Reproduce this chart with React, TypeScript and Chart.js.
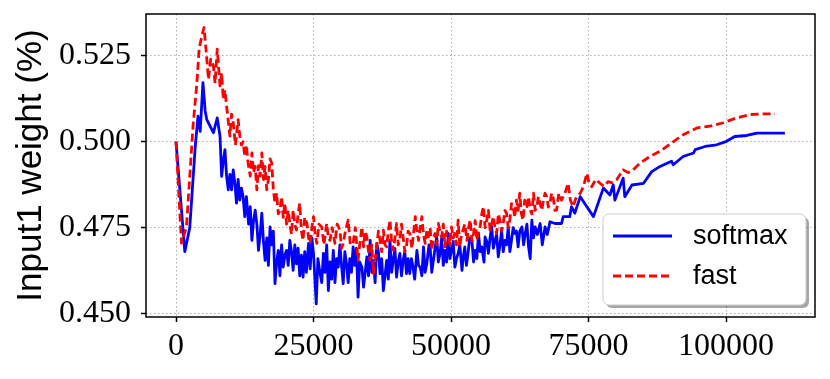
import React, { useEffect, useRef } from "react";
import { Chart, registerables } from "chart.js";

Chart.register(...registerables);

const X_TICKS = [0, 25000, 50000, 75000, 100000];
const Y_TICKS = [0.45, 0.475, 0.5, 0.525];

// [training step, weight] pairs
const SOFTMAX_POINTS: [number, number][] = [
  [0, 0.5], [1600, 0.468], [2500, 0.475], [3500, 0.4986], [4000, 0.5074], [4400, 0.503],
  [4900, 0.5172], [5300, 0.509], [5600, 0.5064], [6200, 0.5045], [6800, 0.5026], [7500, 0.5069],
  [8000, 0.5016], [8300, 0.4899], [8600, 0.4945], [8900, 0.4977], [9200, 0.49], [9500, 0.486],
  [9800, 0.4905], [10100, 0.486], [10400, 0.4918], [10700, 0.488], [11000, 0.4821], [11300, 0.489],
  [11600, 0.483], [11900, 0.4865], [12200, 0.484], [12500, 0.4782], [12800, 0.484], [13200, 0.476],
  [13500, 0.4811], [13800, 0.4713], [14100, 0.477], [14400, 0.4801], [14700, 0.476], [15000, 0.4684],
  [15300, 0.473], [15600, 0.4792], [15900, 0.471], [16200, 0.4655], [16500, 0.472], [16800, 0.464],
  [17100, 0.4752], [17400, 0.47], [17700, 0.474], [18000, 0.4587], [18300, 0.465], [18600, 0.4684],
  [18900, 0.461], [19200, 0.47], [19500, 0.4635], [19800, 0.467], [20100, 0.4684], [20400, 0.464],
  [20700, 0.4713], [21000, 0.468], [21300, 0.4626], [21600, 0.47], [21900, 0.4645], [22200, 0.469],
  [22500, 0.461], [22800, 0.467], [23100, 0.4606], [23400, 0.468], [23700, 0.462], [24100, 0.4704],
  [24400, 0.463], [24700, 0.472], [25000, 0.4675], [25500, 0.4528], [25800, 0.466], [26200, 0.4616],
  [26500, 0.459], [26800, 0.4675], [27100, 0.462], [27400, 0.47], [27700, 0.4567], [28000, 0.465],
  [28300, 0.46], [28600, 0.4684], [28900, 0.459], [29200, 0.466], [29500, 0.4635], [29800, 0.47],
  [30100, 0.464], [30400, 0.4587], [30700, 0.468], [31000, 0.4645], [31300, 0.459], [31600, 0.466],
  [31900, 0.462], [32200, 0.4694], [32500, 0.464], [32800, 0.469], [33100, 0.4548], [33400, 0.465],
  [33800, 0.4635], [34100, 0.4577], [34400, 0.462], [34700, 0.4665], [35000, 0.461], [35300, 0.4713],
  [35600, 0.462], [35900, 0.4655], [36200, 0.459], [36500, 0.4704], [36800, 0.468], [37100, 0.4616],
  [37400, 0.466], [37700, 0.4567], [38000, 0.461], [38300, 0.4655], [38600, 0.46], [38900, 0.4713],
  [39200, 0.462], [39500, 0.4655], [39800, 0.469], [40100, 0.4606], [40400, 0.465], [40700, 0.4675],
  [41000, 0.461], [41300, 0.4655], [41600, 0.468], [41900, 0.4616], [42200, 0.466], [42500, 0.4616],
  [42800, 0.466], [43100, 0.4635], [43400, 0.46], [43800, 0.4684], [44100, 0.464], [44400, 0.4635],
  [44700, 0.461], [45000, 0.4694], [45300, 0.462], [45600, 0.4645], [46000, 0.47], [46200, 0.4694],
  [46500, 0.462], [46800, 0.4655], [47100, 0.469], [47400, 0.4723], [47700, 0.465], [48000, 0.4675],
  [48300, 0.472], [48600, 0.464], [48900, 0.4684], [49200, 0.465], [49500, 0.4733], [49800, 0.466],
  [50100, 0.4684], [50400, 0.471], [50700, 0.4635], [51000, 0.466], [51300, 0.4675], [51600, 0.47],
  [52000, 0.4626], [52200, 0.466], [52500, 0.4694], [52800, 0.464], [53100, 0.4675], [53400, 0.472],
  [53800, 0.4713], [54100, 0.465], [54400, 0.4684], [54700, 0.466], [55000, 0.4733], [55300, 0.468],
  [55600, 0.4694], [56000, 0.465], [56200, 0.4723], [56500, 0.471], [56800, 0.4675], [57100, 0.472],
  [57400, 0.4752], [57700, 0.469], [58000, 0.4713], [58300, 0.473], [58600, 0.4665], [58900, 0.47],
  [59200, 0.4743], [59500, 0.468], [59800, 0.4713], [60100, 0.47], [60400, 0.4752], [60700, 0.468],
  [61000, 0.4713], [61300, 0.475], [61600, 0.4733], [61900, 0.474], [62200, 0.4694], [62500, 0.474],
  [62900, 0.4752], [63200, 0.47], [63500, 0.4733], [63800, 0.476], [64100, 0.4694], [64400, 0.466],
  [64700, 0.4772], [65000, 0.472], [65300, 0.4752], [65700, 0.473], [66200, 0.4762], [66600, 0.47],
  [67100, 0.4752], [67500, 0.473], [68000, 0.4767], [68900, 0.4762], [70100, 0.4762], [70400, 0.4782],
  [71600, 0.4782], [71900, 0.4811], [72500, 0.4792], [73500, 0.484], [74700, 0.4811], [75900, 0.4782],
  [77700, 0.4865], [78900, 0.4845], [79500, 0.4874], [79800, 0.483], [81300, 0.4894], [81600, 0.484],
  [82900, 0.4874], [85000, 0.4879], [86500, 0.4913], [88000, 0.4928], [90100, 0.4943], [90400, 0.4933],
  [92200, 0.4957], [94100, 0.4967], [94400, 0.4977], [96200, 0.4986], [98300, 0.4991], [100100, 0.5001],
  [101600, 0.5015], [103800, 0.5018], [105600, 0.5025], [108000, 0.5025], [110700, 0.5025],
];

const FAST_POINTS: [number, number][] = [
  [0, 0.5], [1000, 0.4705], [1900, 0.4752], [2500, 0.4899], [3100, 0.5045], [3800, 0.5172],
  [4200, 0.5269], [4700, 0.5308], [5100, 0.5332], [5500, 0.5259], [5900, 0.5181], [6300, 0.524],
  [6800, 0.522], [7100, 0.517], [7500, 0.5269], [8000, 0.5162], [8300, 0.52], [8600, 0.5123],
  [8900, 0.515], [9200, 0.5103], [9500, 0.506], [9800, 0.5016], [10100, 0.508], [10400, 0.5055],
  [10800, 0.499], [11300, 0.5064], [11600, 0.5016], [11900, 0.499], [12200, 0.5], [12500, 0.4957],
  [12800, 0.499], [13100, 0.4938], [13500, 0.49], [13800, 0.4967], [14100, 0.491], [14400, 0.4928],
  [14700, 0.486], [15000, 0.493], [15300, 0.49], [15600, 0.4967], [15900, 0.489], [16200, 0.4928],
  [16500, 0.486], [16800, 0.4889], [17100, 0.495], [17400, 0.4938], [17700, 0.486], [18000, 0.4821],
  [18300, 0.485], [18600, 0.479], [18900, 0.4801], [19200, 0.484], [19500, 0.478], [19800, 0.4821],
  [20100, 0.476], [20400, 0.48], [20700, 0.4762], [21000, 0.473], [21300, 0.4801], [21600, 0.476],
  [21900, 0.4743], [22200, 0.479], [22500, 0.4821], [22800, 0.474], [23100, 0.4713], [23400, 0.478],
  [23800, 0.4762], [24100, 0.472], [24400, 0.4704], [24700, 0.475], [25000, 0.4782], [25300, 0.473],
  [25600, 0.4704], [26000, 0.476], [26500, 0.4752], [26900, 0.47], [27400, 0.4762], [27700, 0.472],
  [28000, 0.4713], [28400, 0.475], [28900, 0.4704], [29300, 0.476], [29800, 0.4743], [30100, 0.469],
  [30400, 0.4704], [30800, 0.474], [31300, 0.4772], [31700, 0.47], [32200, 0.4704], [32600, 0.475],
  [33100, 0.4655], [33400, 0.47], [33800, 0.4752], [34100, 0.4694], [34400, 0.474], [34700, 0.4723],
  [35000, 0.468], [35300, 0.4655], [35600, 0.47], [35900, 0.4616], [36200, 0.466], [36500, 0.4694],
  [36800, 0.474], [37100, 0.4713], [37400, 0.468], [37700, 0.4743], [38000, 0.47], [38300, 0.4694],
  [38600, 0.474], [38900, 0.4772], [39200, 0.471], [39500, 0.4684], [39800, 0.472], [40100, 0.4762],
  [40400, 0.47], [40700, 0.4713], [41000, 0.476], [41300, 0.4723], [41600, 0.468], [41900, 0.4694],
  [42200, 0.474], [42500, 0.4733], [42900, 0.469], [43500, 0.4782], [43800, 0.474], [44100, 0.4713],
  [44400, 0.475], [44700, 0.4782], [45000, 0.473], [45300, 0.4704], [45600, 0.474], [45900, 0.4723],
  [46200, 0.475], [46500, 0.4684], [46800, 0.472], [47100, 0.4733], [47400, 0.47], [47700, 0.4762],
  [48000, 0.474], [48300, 0.4723], [48600, 0.476], [48900, 0.4694], [49200, 0.474], [49500, 0.4723],
  [49800, 0.47], [50100, 0.4752], [50400, 0.472], [50700, 0.4733], [51000, 0.47], [51300, 0.4772],
  [51600, 0.4694], [51900, 0.473], [52200, 0.4743], [52500, 0.476], [52900, 0.4713], [53200, 0.475],
  [53500, 0.4772], [53800, 0.471], [54100, 0.4733], [54400, 0.477], [54700, 0.4713], [55000, 0.474],
  [55300, 0.4752], [55600, 0.479], [55900, 0.4811], [56200, 0.475], [56500, 0.4772], [56800, 0.48],
  [57100, 0.4743], [57400, 0.476], [57700, 0.4782], [58000, 0.475], [58300, 0.4733], [58600, 0.479],
  [58900, 0.4772], [59200, 0.474], [59500, 0.4762], [59800, 0.48], [60100, 0.4792], [60400, 0.475],
  [60700, 0.4772], [61000, 0.482], [61300, 0.4811], [61600, 0.478], [61900, 0.483], [62200, 0.48],
  [62500, 0.485], [62800, 0.479], [63100, 0.4772], [63400, 0.483], [63800, 0.4811], [64100, 0.484],
  [64400, 0.4801], [64700, 0.479], [65000, 0.485], [65300, 0.48], [65600, 0.4811], [65900, 0.484],
  [66200, 0.4821], [66500, 0.48], [66800, 0.483], [67100, 0.485], [67400, 0.484], [67700, 0.481],
  [68000, 0.4821], [68300, 0.485], [68600, 0.4835], [68900, 0.48], [69200, 0.4801], [69600, 0.485],
  [70100, 0.483], [70700, 0.485], [71300, 0.4879], [71700, 0.483], [72200, 0.4811], [72800, 0.484],
  [73500, 0.485], [74100, 0.487], [74700, 0.4908], [75100, 0.488], [75600, 0.4869], [76300, 0.489],
  [77100, 0.4879], [77800, 0.487], [78600, 0.4884], [79300, 0.488], [80100, 0.4889], [81300, 0.4918],
  [82200, 0.491], [83100, 0.4918], [84400, 0.4938], [86200, 0.4957], [88000, 0.4972], [90100, 0.4996],
  [92200, 0.502], [94700, 0.504], [97100, 0.5045], [99500, 0.5055], [101900, 0.5069], [104400, 0.5079],
  [106800, 0.5081], [108900, 0.5081],
];

const SERIES_NAMES = ["softmax", "fast"];
const Y_TITLE = "Input1 weight (%)";

function roundRect(ctx: CanvasRenderingContext2D, x: number, y: number, w: number, h: number, r: number) {
  ctx.beginPath();
  ctx.moveTo(x + r, y);
  ctx.lineTo(x + w - r, y);
  ctx.arcTo(x + w, y, x + w, y + r, r);
  ctx.lineTo(x + w, y + h - r);
  ctx.arcTo(x + w, y + h, x + w - r, y + h, r);
  ctx.lineTo(x + r, y + h);
  ctx.arcTo(x, y + h, x, y + h - r, r);
  ctx.lineTo(x, y + r);
  ctx.arcTo(x, y, x + r, y, r);
  ctx.closePath();
}

const framePlugin = {
  id: "frameAndLegend",
  afterDatasetsDraw(chart: any) {
    const { ctx, chartArea } = chart;
    const { left, top, right, bottom } = chartArea;
    ctx.save();
    ctx.strokeStyle = "#000";
    ctx.lineWidth = 1.5;
    ctx.setLineDash([]);
    ctx.strokeRect(left, top, right - left, bottom - top);

    const bx = right - 212;
    const by = bottom - 103;
    const bw = 203;
    const bh = 91;
    ctx.fillStyle = "rgba(0,0,0,0.35)";
    roundRect(ctx, bx + 3, by + 3, bw, bh, 6);
    ctx.fill();
    ctx.fillStyle = "#ffffff";
    roundRect(ctx, bx, by, bw, bh, 6);
    ctx.fill();
    ctx.strokeStyle = "#cccccc";
    ctx.lineWidth = 1;
    ctx.stroke();

    const datasets = chart.data.datasets;
    const rows = [by + 22, by + 62];
    for (let i = 0; i < datasets.length; i++) {
      const ds = datasets[i];
      const y = rows[i];
      ctx.beginPath();
      ctx.strokeStyle = ds.borderColor;
      ctx.lineWidth = 2.8;
      ctx.setLineDash(ds.borderDash || []);
      ctx.moveTo(bx + 10, y);
      ctx.lineTo(bx + 69, y);
      ctx.stroke();
      ctx.setLineDash([]);
      ctx.fillStyle = "#000";
      ctx.font = "27px 'Liberation Sans', Arial, sans-serif";
      ctx.textBaseline = "middle";
      ctx.textAlign = "left";
      ctx.fillText(ds.label, bx + 90, y + 1);
    }
    ctx.restore();
  },
};

export default function App() {
  const canvasRef = useRef<HTMLCanvasElement | null>(null);

  useEffect(() => {
    const canvas = canvasRef.current;
    if (!canvas) return;
    const softmaxData = SOFTMAX_POINTS.map(([s, v]) => ({ x: s, y: v }));
    const fastData = FAST_POINTS.map(([s, v]) => ({ x: s, y: v }));

    const gridCommon = {
      color: "#b0b0b0",
      lineWidth: 1,
      tickLength: 5,
      tickColor: "#000",
      tickWidth: 1.5,
      tickBorderDash: [],
    };

    const chart = new Chart(canvas, {
      type: "line",
      data: {
        datasets: [
          {
            label: SERIES_NAMES[0],
            data: softmaxData,
            borderColor: "#0000ff",
            backgroundColor: "#0000ff",
            borderWidth: 2.8,
            pointRadius: 0,
            tension: 0,
            fill: false,
            borderJoinStyle: "round",
            order: 2,
          },
          {
            label: SERIES_NAMES[1],
            data: fastData,
            borderColor: "#ff0000",
            backgroundColor: "#ff0000",
            borderWidth: 2.8,
            borderDash: [8, 4],
            pointRadius: 0,
            tension: 0,
            fill: false,
            borderJoinStyle: "round",
            order: 1,
          },
        ],
      },
      options: {
        animation: false,
        responsive: false,
        maintainAspectRatio: false,
        layout: { padding: { left: 0, right: 15, top: 14, bottom: 0 } },
        plugins: {
          legend: { display: false },
          tooltip: { enabled: false },
        },
        scales: {
          x: {
            type: "linear",
            min: -5455,
            max: 116180,
            afterBuildTicks: (scale: any) => {
              scale.ticks = X_TICKS.map((v) => ({ value: v }));
            },
            afterFit: (scale: any) => {
              scale.height = 62;
              scale.paddingLeft = 0;
              scale.paddingRight = 0;
            },
            ticks: {
              autoSkip: false,
              maxRotation: 0,
              padding: 5,
              color: "#000",
              font: { family: "'Liberation Serif', serif", size: 32 },
              callback: (v: any) => String(v),
            },
            grid: gridCommon,
            border: { display: false, dash: [1.5, 2.5] },
          },
          y: {
            type: "linear",
            min: 0.44901,
            max: 0.53713,
            afterBuildTicks: (scale: any) => {
              scale.ticks = Y_TICKS.map((v) => ({ value: v }));
            },
            afterFit: (scale: any) => {
              scale.width = 146;
              scale.paddingTop = 0;
              scale.paddingBottom = 0;
            },
            ticks: {
              autoSkip: false,
              padding: 10,
              color: "#000",
              font: { family: "'Liberation Serif', serif", size: 32 },
              callback: (v: any) => Number(v).toFixed(3),
            },
            grid: gridCommon,
            border: { display: false, dash: [1.5, 2.5] },
            title: {
              display: true,
              text: Y_TITLE,
              color: "#000",
              font: { family: "'Liberation Sans', Arial, sans-serif", size: 35 },
              padding: { top: 10, bottom: 0 },
            },
          },
        },
      },
      plugins: [framePlugin],
    } as any);

    return () => chart.destroy();
  }, []);

  return (
    <div style={{ position: "absolute", left: 0, top: 0, width: 830, height: 379, background: "#fff" }}>
      <canvas ref={canvasRef} width={830} height={379} style={{ display: "block", width: 830, height: 379 }} />
    </div>
  );
}
